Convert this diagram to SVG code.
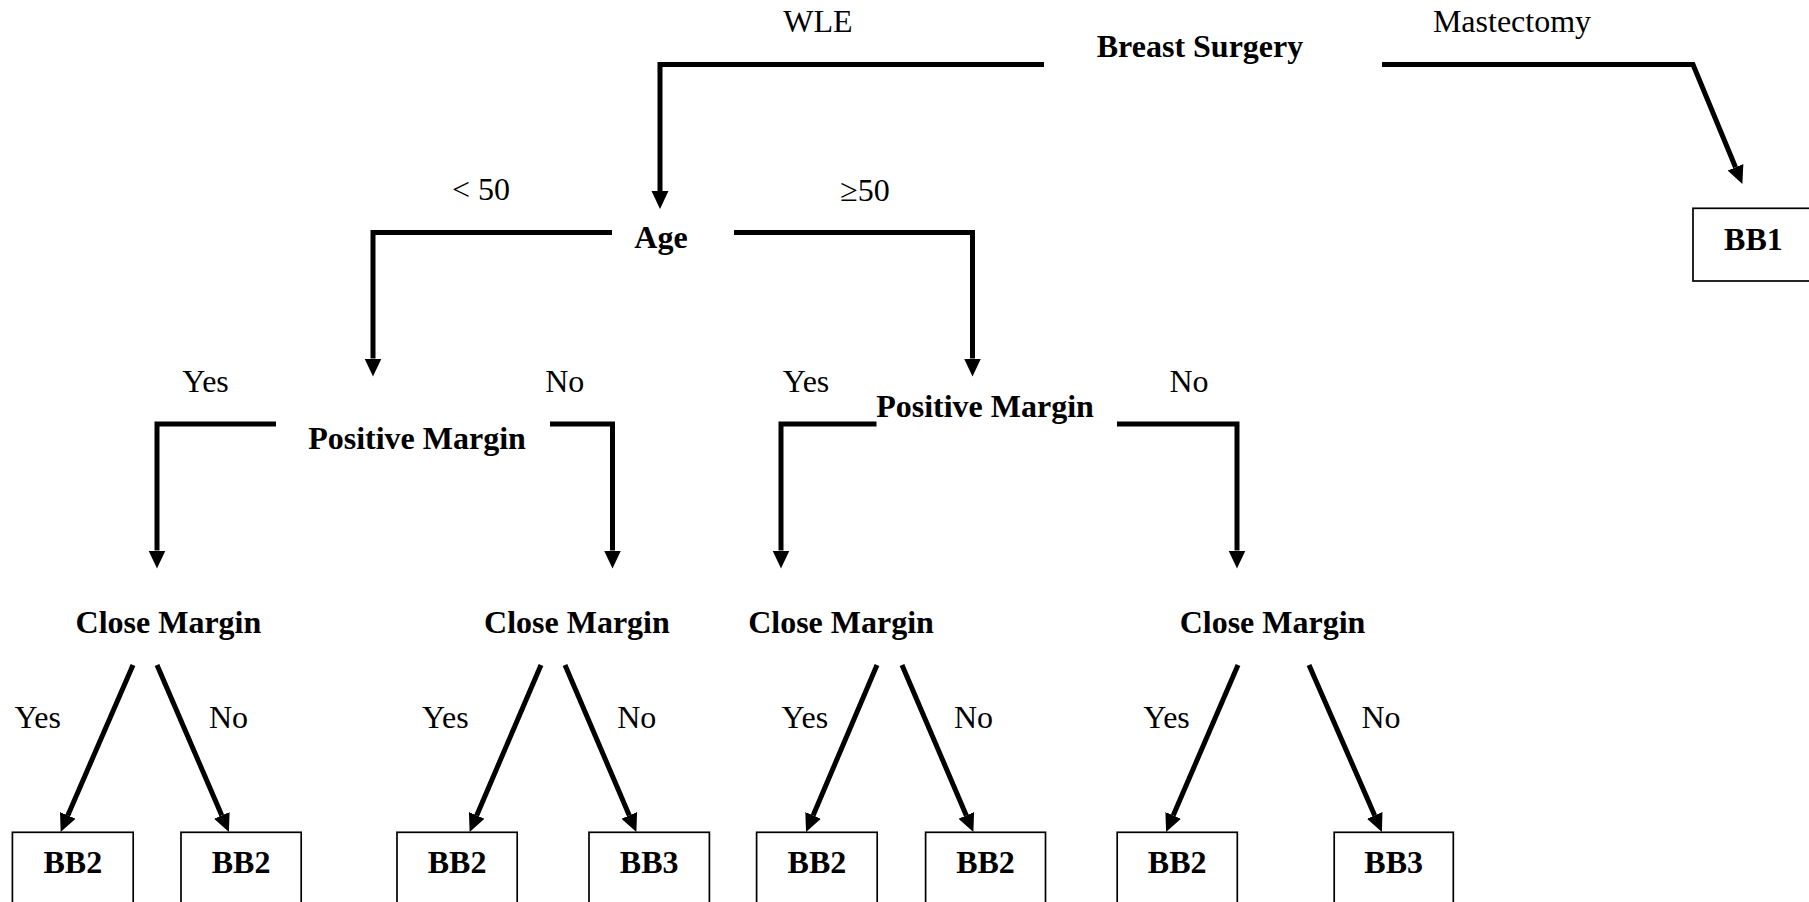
<svg xmlns="http://www.w3.org/2000/svg" width="1809" height="902" viewBox="0 0 1809 902">
<defs>
<style>
.t{font-family:"Liberation Serif","Times New Roman",serif;font-size:32px;fill:#000;text-anchor:middle}
.b{font-weight:bold}
.c{fill:none;stroke:#000;stroke-width:5;stroke-linejoin:miter;stroke-linecap:butt}
.box{fill:#fff;stroke:#000;stroke-width:1.7}
</style>
<marker id="ah" markerUnits="userSpaceOnUse" markerWidth="18" markerHeight="18" viewBox="0 0 17 16" refX="0" refY="8" orient="auto">
<path d="M0,0 L17,8 L0,16 Z" fill="#000"/>
</marker>
</defs>
<rect width="1809" height="902" fill="#fff"/>
<g id="connectors">
<path class="c" d="M1044,64.6 H660 V191" marker-end="url(#ah)"/>
<path class="c" d="M1382,64.6 H1693 L1735.5,167.3" marker-end="url(#ah)"/>
<path class="c" d="M612,232.5 H373 V358.5" marker-end="url(#ah)"/>
<path class="c" d="M734,232.5 H972.5 V358.5" marker-end="url(#ah)"/>
<path class="c" d="M276,424 H157 V550.5" marker-end="url(#ah)"/>
<path class="c" d="M550,424 H612.5 V550.5" marker-end="url(#ah)"/>
<path class="c" d="M876.5,424 H781 V550.5" marker-end="url(#ah)"/>
<path class="c" d="M1117,424 H1237 V550.5" marker-end="url(#ah)"/>
<path class="c" d="M133,665 L67.8,815.4" marker-end="url(#ah)"/>
<path class="c" d="M157,665 L221.8,815.4" marker-end="url(#ah)"/>
<path class="c" d="M541,665 L476.7,815.4" marker-end="url(#ah)"/>
<path class="c" d="M565,665 L629.3,815.4" marker-end="url(#ah)"/>
<path class="c" d="M877,665 L813.1,815.4" marker-end="url(#ah)"/>
<path class="c" d="M902,665 L966.3,815.4" marker-end="url(#ah)"/>
<path class="c" d="M1238,665 L1173.2,815.4" marker-end="url(#ah)"/>
<path class="c" d="M1309,665 L1374.7,815.4" marker-end="url(#ah)"/>
</g>
<g id="edge-labels">
<text class="t" x="818" y="31.5">WLE</text>
<text class="t" x="1512" y="32">Mastectomy</text>
<text class="t" x="481" y="199.5">&lt; 50</text>
<text class="t" x="865" y="200.5">≥50</text>
<text class="t" x="205.5" y="391.5">Yes</text>
<text class="t" x="564.7" y="391.5">No</text>
<text class="t" x="806" y="391.5">Yes</text>
<text class="t" x="1189" y="391.5">No</text>
<text class="t" x="37.7" y="727.5">Yes</text>
<text class="t" x="228.5" y="727.5">No</text>
<text class="t" x="445.3" y="727.5">Yes</text>
<text class="t" x="636.7" y="727.5">No</text>
<text class="t" x="804.8" y="727.5">Yes</text>
<text class="t" x="973.5" y="727.5">No</text>
<text class="t" x="1166.5" y="727.5">Yes</text>
<text class="t" x="1381" y="727.5">No</text>
</g>
<g id="breast-surgery"><text class="t b" x="1200" y="56.5">Breast Surgery</text></g>
<g id="age"><text class="t b" x="661" y="248.3">Age</text></g>
<g id="positive-margin-1"><text class="t b" x="417" y="449">Positive Margin</text></g>
<g id="positive-margin-2"><text class="t b" x="985" y="416.5">Positive Margin</text></g>
<g id="close-margin-1"><text class="t b" x="168.4" y="632.5">Close Margin</text></g>
<g id="close-margin-2"><text class="t b" x="576.9" y="632.5">Close Margin</text></g>
<g id="close-margin-3"><text class="t b" x="841" y="632.5">Close Margin</text></g>
<g id="close-margin-4"><text class="t b" x="1272.5" y="632.5">Close Margin</text></g>
<g id="bb1"><rect class="box" x="1693" y="208.3" width="125" height="72.7"/><text class="t b" x="1753.4" y="250">BB1</text></g>
<g id="leaf-1"><rect class="box" x="12.4" y="832.3" width="120.8" height="80"/><text class="t b" x="72.8" y="873.3">BB2</text></g>
<g id="leaf-2"><rect class="box" x="181" y="832.3" width="120.2" height="80"/><text class="t b" x="241.1" y="873.3">BB2</text></g>
<g id="leaf-3"><rect class="box" x="397" y="832.3" width="120.2" height="80"/><text class="t b" x="457.1" y="873.3">BB2</text></g>
<g id="leaf-4"><rect class="box" x="589" y="832.3" width="120.4" height="80"/><text class="t b" x="649.2" y="873.3">BB3</text></g>
<g id="leaf-5"><rect class="box" x="756.6" y="832.3" width="120.6" height="80"/><text class="t b" x="816.9" y="873.3">BB2</text></g>
<g id="leaf-6"><rect class="box" x="925.6" y="832.3" width="119.9" height="80"/><text class="t b" x="985.5" y="873.3">BB2</text></g>
<g id="leaf-7"><rect class="box" x="1117.2" y="832.3" width="120.1" height="80"/><text class="t b" x="1177.2" y="873.3">BB2</text></g>
<g id="leaf-8"><rect class="box" x="1334.2" y="832.3" width="119.1" height="80"/><text class="t b" x="1393.7" y="873.3">BB3</text></g>
</svg>
